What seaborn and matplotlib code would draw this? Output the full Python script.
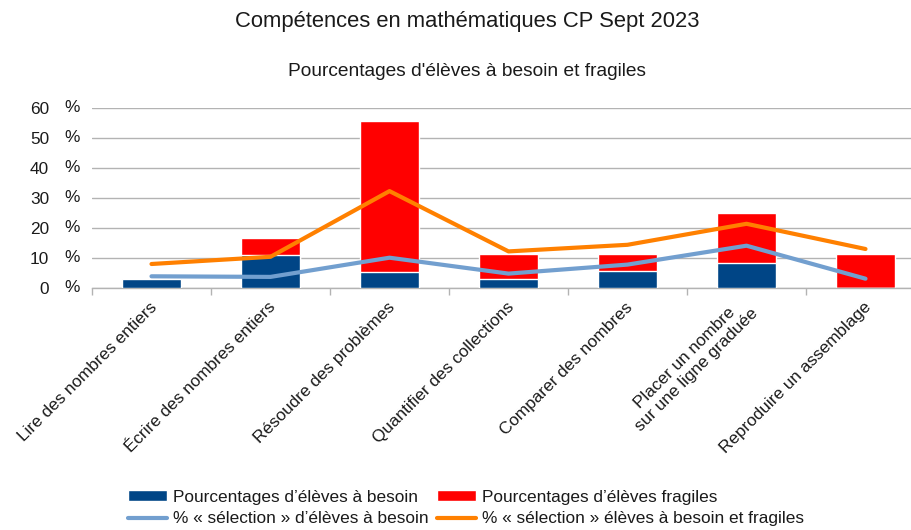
import pandas as pd
import matplotlib
matplotlib.use('Agg')
import matplotlib.pyplot as plt
import matplotlib.transforms as mtransforms
from matplotlib.patches import Patch
from matplotlib.lines import Line2D
import seaborn as sns
import numpy as np

# Data (percent)
categories = [
    'Lire des nombres entiers',
    'Écrire des nombres entiers',
    'Résoudre des problèmes',
    'Quantifier des collections',
    'Comparer des nombres',
    'Placer un nombre\nsur une ligne graduée',
    'Reproduire un assemblage',
]
besoin = [3.0, 11.0, 5.4, 3.0, 5.7, 8.3, 0.0]
fragiles = [0.0, 5.8, 50.3, 8.3, 5.6, 16.7, 11.3]
selection_besoin = [3.9, 3.7, 10.1, 4.8, 7.8, 14.1, 3.1]
selection_besoin_fragiles = [8.0, 10.4, 32.3, 12.2, 14.4, 21.4, 13.0]
y_ticks = [0, 10, 20, 30, 40, 50, 60]

labels = {
    'besoin': "Pourcentages d’élèves à besoin",
    'fragiles': "Pourcentages d’élèves fragiles",
    'sel_besoin': "% « sélection » d’élèves à besoin",
    'sel_all': "% « sélection » élèves à besoin et fragiles",
}

# LibreOffice-like colours
col_besoin = '#004586'
col_fragiles = '#ff0000'
col_sel_besoin = '#729fcf'
col_sel_all = '#ff8000'
grid_col = '#b3b3b3'
text_col = '#1a1a1a'

sns.set_theme(style='white')
plt.rcParams['font.family'] = ['Liberation Sans', 'DejaVu Sans']

df = pd.DataFrame({
    'Compétence': categories,
    'besoin': besoin,
    'fragiles': fragiles,
    'sel_besoin': selection_besoin,
    'sel_all': selection_besoin_fragiles,
})
df['total'] = df['besoin'] + df['fragiles']

W, H = 912, 530
fig = plt.figure(figsize=(W / 100, H / 100), dpi=100)
fig.patch.set_facecolor('white')
# plot area runs slightly past the right edge, as in the source
ax = fig.add_axes([92 / W, (H - 288) / H, (925 - 92) / W, 180 / H])
ax.set_facecolor('white')

# stacked bars: draw the total in red, then the "besoin" part in blue over it
sns.barplot(data=df, x='Compétence', y='total', color=col_fragiles,
            width=0.5, saturation=1, ax=ax, zorder=2)
sns.barplot(data=df, x='Compétence', y='besoin', color=col_besoin,
            width=0.5, saturation=1, ax=ax, zorder=3)

sns.lineplot(data=df, x='Compétence', y='sel_besoin', color=col_sel_besoin,
             linewidth=3, ax=ax, zorder=4, sort=False)
sns.lineplot(data=df, x='Compétence', y='sel_all', color=col_sel_all,
             linewidth=3, ax=ax, zorder=5, sort=False)

ax.set_xlim(-0.5, len(categories) - 0.5)
ax.set_ylim(0, 60)
ax.set_xlabel('')
ax.set_ylabel('')

for s in ['top', 'right', 'left']:
    ax.spines[s].set_visible(False)
ax.spines['bottom'].set_color(grid_col)
ax.spines['bottom'].set_linewidth(1)

ax.set_yticks(y_ticks)
ax.set_yticklabels([str(v) for v in y_ticks], fontsize=12.4, color=text_col)
ax.tick_params(axis='y', length=5, color=grid_col, pad=26, width=1)
ax.yaxis.grid(True, color=grid_col, linewidth=1)
ax.set_axisbelow(True)

# "%" column next to the tick numbers
trans = mtransforms.blended_transform_factory(fig.transFigure, ax.transData)
for v in y_ticks:
    ax.text(64 / W, v, '%', transform=trans, ha='left', va='center',
            fontsize=12.4, color=text_col, clip_on=False)

# category boundary ticks
ax.set_xticks(np.arange(-0.5, len(categories)), minor=True)
ax.tick_params(axis='x', which='minor', length=5, color=grid_col, width=1,
               direction='out', bottom=True)
ax.tick_params(axis='x', which='major', length=0, pad=12)
ax.set_xticks(range(len(categories)))
ax.set_xticklabels(categories, rotation=45, ha='right', va='center',
                   rotation_mode='anchor', fontsize=12.3, color=text_col,
                   multialignment='center')
# nudge labels a little to the right
shift = mtransforms.ScaledTranslation(3 / 100, 0, fig.dpi_scale_trans)
for lbl in ax.get_xticklabels():
    lbl.set_transform(lbl.get_transform() + shift)

fig.text(467 / W, 1 - 22 / H, 'Compétences en mathématiques CP Sept 2023',
         ha='center', va='center', fontsize=15.8, color=text_col)
fig.text(467 / W, 1 - 72 / H, "Pourcentages d'élèves à besoin et fragiles",
         ha='center', va='center', fontsize=13.8, color=text_col)

handles = [
    Patch(facecolor=col_besoin, label=labels['besoin']),
    Line2D([0], [0], color=col_sel_besoin, linewidth=3, label=labels['sel_besoin']),
    Patch(facecolor=col_fragiles, label=labels['fragiles']),
    Line2D([0], [0], color=col_sel_all, linewidth=3, label=labels['sel_all']),
]
fig.legend(handles=handles, ncol=2, loc='center',
           bbox_to_anchor=(466 / W, 1 - 508 / H), frameon=False,
           fontsize=12.4, handlelength=2.27, handleheight=0.6,
           handletextpad=0.35, columnspacing=0.47, labelspacing=0.38,
           labelcolor=text_col)

fig.savefig('out.png', dpi=100, facecolor='white')
